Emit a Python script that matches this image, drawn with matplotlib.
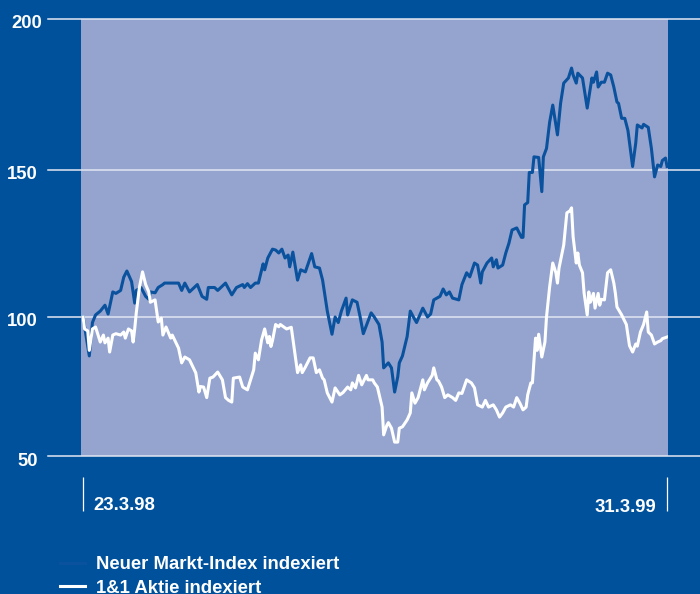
import numpy as np
import matplotlib.pyplot as plt
import matplotlib.transforms as mtransforms

#---------------------------------------------------------------
# Data: days since 23.3.98 and indexed values
#---------------------------------------------------------------

nm_day = [0, 4, 6, 8, 11, 14, 16, 19, 21, 24, 26, 28, 31, 33, 34, 37, 40, 42, 43, 46,
          48, 51, 52, 57, 61, 63, 65, 68, 72, 73, 76, 79, 80, 84, 86, 91, 95, 98, 102, 103,
          105, 107, 110, 112, 115, 116, 118, 121, 123, 125, 127, 129, 131, 132, 134, 137, 139, 142, 146, 148,
          151, 153, 156, 159, 161, 163, 165, 168, 169, 172, 175, 177, 179, 181, 184, 186, 189, 191, 192, 195,
          197, 199, 201, 202, 204, 207, 209, 211, 213, 217, 220, 222, 224, 228, 230, 232, 234, 236, 240, 242,
          245, 247, 250, 252, 254, 255, 258, 261, 262, 264, 265, 268, 270, 272, 274, 277, 280, 281, 282, 284,
          285, 287, 288, 291, 293, 294, 296, 298, 300, 303, 305, 307, 310, 312, 313, 315, 316, 319, 322, 325,
          326, 328, 329, 331, 333, 335, 337, 339, 341, 342, 344, 346, 348, 351, 353, 354, 357, 358, 361, 363,
          365, 367, 369, 370, 372, 373]
nm_val = [100, 86, 98, 100.7, 102, 104, 101, 108.5, 108, 109, 113.5, 115.6, 112, 104.7, 109, 110, 107, 106, 108.5, 108.2,
          110, 111, 111.5, 111.5, 111.5, 109, 111.5, 108.5, 110.5, 111, 107, 106, 110, 110, 109, 111.5, 107.5, 110, 111, 110,
          111.3, 110, 111.5, 111.5, 118, 116, 120, 123, 122.7, 121.7, 123, 120, 121, 117, 122, 112.5, 116, 115.3, 121.5, 117,
          116.6, 112.5, 102, 93.8, 100, 98, 102, 106.4, 100.7, 105.8, 105, 100, 94, 97, 101.4, 100, 97.3, 91, 81.7, 83.5,
          81.7, 73, 78.5, 83.5, 86, 93, 102, 100, 98, 103, 100, 101, 105.8, 107, 109.5, 107.5, 108.5, 106.4, 105.8, 111,
          115, 113.6, 118.3, 117.6, 111.5, 115.3, 118.3, 120, 117, 119.4, 116.6, 117.6, 121.7, 125, 129.5, 130.2, 127, 127, 138, 138.8,
          149, 149, 154.2, 154, 142.5, 154.2, 157, 165.7, 171.4, 161.5, 172, 178.7, 180.4, 183.7, 181.4, 178.7, 182, 180.4, 170.4, 180.4,
          179, 182.4, 177.4, 179, 179, 182, 181.4, 177.4, 172.4, 172, 167, 167, 163, 151, 158.8, 164.8, 163.8, 165, 164, 157,
          147.5, 151.5, 151, 153, 153.8, 151]

aktie_day = [0, 1, 3, 4, 6, 8, 11, 13, 14, 16, 17, 19, 21, 24, 26, 27, 29, 31, 32, 33,
             34, 36, 38, 40, 42, 43, 46, 48, 50, 51, 53, 56, 57, 61, 63, 65, 68, 72, 74, 75,
             77, 79, 81, 83, 86, 89, 91, 93, 95, 96, 100, 102, 105, 107, 109, 110, 112, 114, 116, 118,
             119, 120, 121, 123, 125, 126, 128, 130, 133, 137, 139, 140, 142, 145, 147, 149, 151, 153, 154, 156,
             159, 161, 164, 166, 169, 171, 172, 174, 176, 178, 181, 182, 185, 186, 188, 191, 192, 194, 195, 197,
             199, 201, 202, 204, 207, 209, 210, 212, 214, 217, 218, 220, 223, 224, 226, 227, 229, 231, 233, 236,
             238, 240, 242, 245, 248, 250, 252, 255, 257, 259, 262, 264, 266, 268, 270, 273, 275, 277, 279, 281,
             283, 284, 286, 287, 289, 290, 291, 293, 295, 296, 298, 300, 302, 303, 304, 307, 309, 311, 312, 313,
             315, 316, 317, 319, 320, 322, 323, 324, 326, 327, 329, 330, 331, 333, 335, 337, 339, 340, 341, 342,
             344, 347, 349, 351, 353, 354, 356, 358, 360, 361, 363, 365, 367, 369, 370, 373]
aktie_val = [100, 95.7, 95, 88, 95.7, 96.4, 91, 93.5, 90.7, 92.4, 87.4, 93.5, 94, 93.5, 94.6, 92.4, 95.7, 95, 91, 95.7,
             101.4, 110, 115.3, 111, 108.5, 105, 105.8, 98.2, 99.6, 93.5, 96.4, 92.4, 93.5, 88.8, 83.5, 85.6, 84.6, 79.9, 73, 75,
             74.8, 71, 78, 78.4, 80.2, 77.4, 71, 70, 69.4, 78, 78.4, 74.8, 73.8, 77.4, 81, 87, 84.6, 91.7, 95.7, 90.7,
             93, 89.4, 91.5, 97.3, 96.5, 97.3, 96.5, 95.7, 96.3, 80, 82.8, 80, 82, 85.3, 85.3, 80, 81, 78, 77.4, 72.7,
             69.4, 74.5, 72, 72.8, 74.8, 73.8, 76.3, 74.5, 79, 75.6, 79, 77.4, 77.4, 76.3, 74.8, 67.6, 57.6, 61, 62, 60,
             55, 55, 60, 60.5, 63, 65.5, 72.7, 69, 71, 77.4, 73.8, 76.3, 79, 81.7, 77.4, 77, 74.8, 71, 72, 71,
             70, 72.7, 72.5, 77.4, 76.3, 74.5, 68.4, 67.6, 70, 67.6, 68.4, 66.6, 64, 65.5, 67.6, 68.4, 67.6, 71, 69, 66.6,
             67.6, 72, 76.3, 76.3, 92.4, 88, 93.8, 85.6, 91, 100, 110.2, 118.3, 115, 111.5, 116.6, 124.4, 135.3, 136, 137, 127.2,
             118.3, 121.7, 117.6, 115, 108.2, 100.7, 108.5, 105, 108, 103, 108, 104, 106, 105.8, 115, 116, 111.5, 108, 103.4, 102.5,
             100.7, 97.3, 89.7, 87.4, 90.3, 89.5, 94.6, 97.3, 101.7, 94.6, 93.5, 90.3, 91, 91.5, 92.2, 92.8]

y_ticks = [50, 100, 150, 200]
x_tick_days = [0, 373]
x_tick_labels = ['23.3.98', '31.3.99']
series_labels = ['Neuer Markt-Index indexiert', '1&1 Aktie indexiert']

#---------------------------------------------------------------
# Styling
#---------------------------------------------------------------
BG = '#00519C'
PLOT_BG = '#94A4CF'
NM_COLOR = '#0A529E'
GRID = '#E2E6F3'
FONT = 'Liberation Sans'
FS = 13.3

plt.rcParams['font.family'] = FONT

# the printed chart's value axis is not quite linear: map ticks to their heights
grid_height = [0, 139, 286.5, 437]
def fwd(v):
  return np.interp(v, y_ticks, grid_height)
def inv(p):
  return np.interp(p, grid_height, y_ticks)

fig = plt.figure(figsize=(7, 5.94), dpi=100, facecolor=BG)
ax = fig.add_axes([81/700, (594-456)/594, 587/700, 437/594])
ax.set_facecolor(PLOT_BG)

ax.plot(nm_day, nm_val, color=NM_COLOR, linewidth=2.2, zorder=3, label=series_labels[0])
ax.plot(aktie_day, aktie_val, color='white', linewidth=2.2, zorder=4, label=series_labels[1])

ax.set_yscale('function', functions=(fwd, inv))
ax.set_ylim(50, 200)
ax.set_xlim(-1.3, 373.6)

#---------> gridlines reach out over the dark frame
for yv in y_ticks:
  ax.axhline(yv, xmin=-0.056, xmax=1.06, color=GRID, linewidth=1.1, zorder=2, clip_on=False)

for s in ax.spines.values():
  s.set_visible(False)

ax.set_yticks(y_ticks)
ax.set_yticklabels([str(v) for v in y_ticks])
ax.tick_params(axis='y', length=0, pad=31, labelsize=FS, labelcolor='white')
for lab in ax.get_yticklabels():
  dx = 4.5 if lab.get_text() == '200' else 0
  offset = mtransforms.ScaledTranslation(dx/100, -3.0/100, fig.dpi_scale_trans)
  lab.set_transform(lab.get_transform() + offset)
  lab.set_fontweight('bold')

#---------> date ticks sit below the plot, labels beside them
ax.spines['bottom'].set_position(('outward', 15))
ax.set_xticks(x_tick_days)
ax.set_xticklabels(['', ''])
ax.tick_params(axis='x', direction='out', length=24.5, width=0.9, color='white')
ax.annotate(x_tick_labels[0], xy=(x_tick_days[0], 0), xycoords=ax.get_xaxis_transform(),
            xytext=(7.2, -35.5), textcoords='offset points', ha='left', va='center',
            color='white', fontsize=FS, fontweight='bold')
ax.annotate(x_tick_labels[1], xy=(x_tick_days[1], 0), xycoords=ax.get_xaxis_transform(),
            xytext=(-7.9, -36.8), textcoords='offset points', ha='right', va='center',
            color='white', fontsize=FS, fontweight='bold')

leg = ax.legend(loc='upper left', bbox_to_anchor=(60/700, 1 - 556/594), bbox_transform=fig.transFigure,
                frameon=False, borderpad=0, borderaxespad=0, handlelength=1.35, handletextpad=0.6,
                labelspacing=0.36, prop={'family': FONT, 'size': FS, 'weight': 'bold'}, labelcolor='white')

fig.savefig('out.png', dpi=100, facecolor=BG)
